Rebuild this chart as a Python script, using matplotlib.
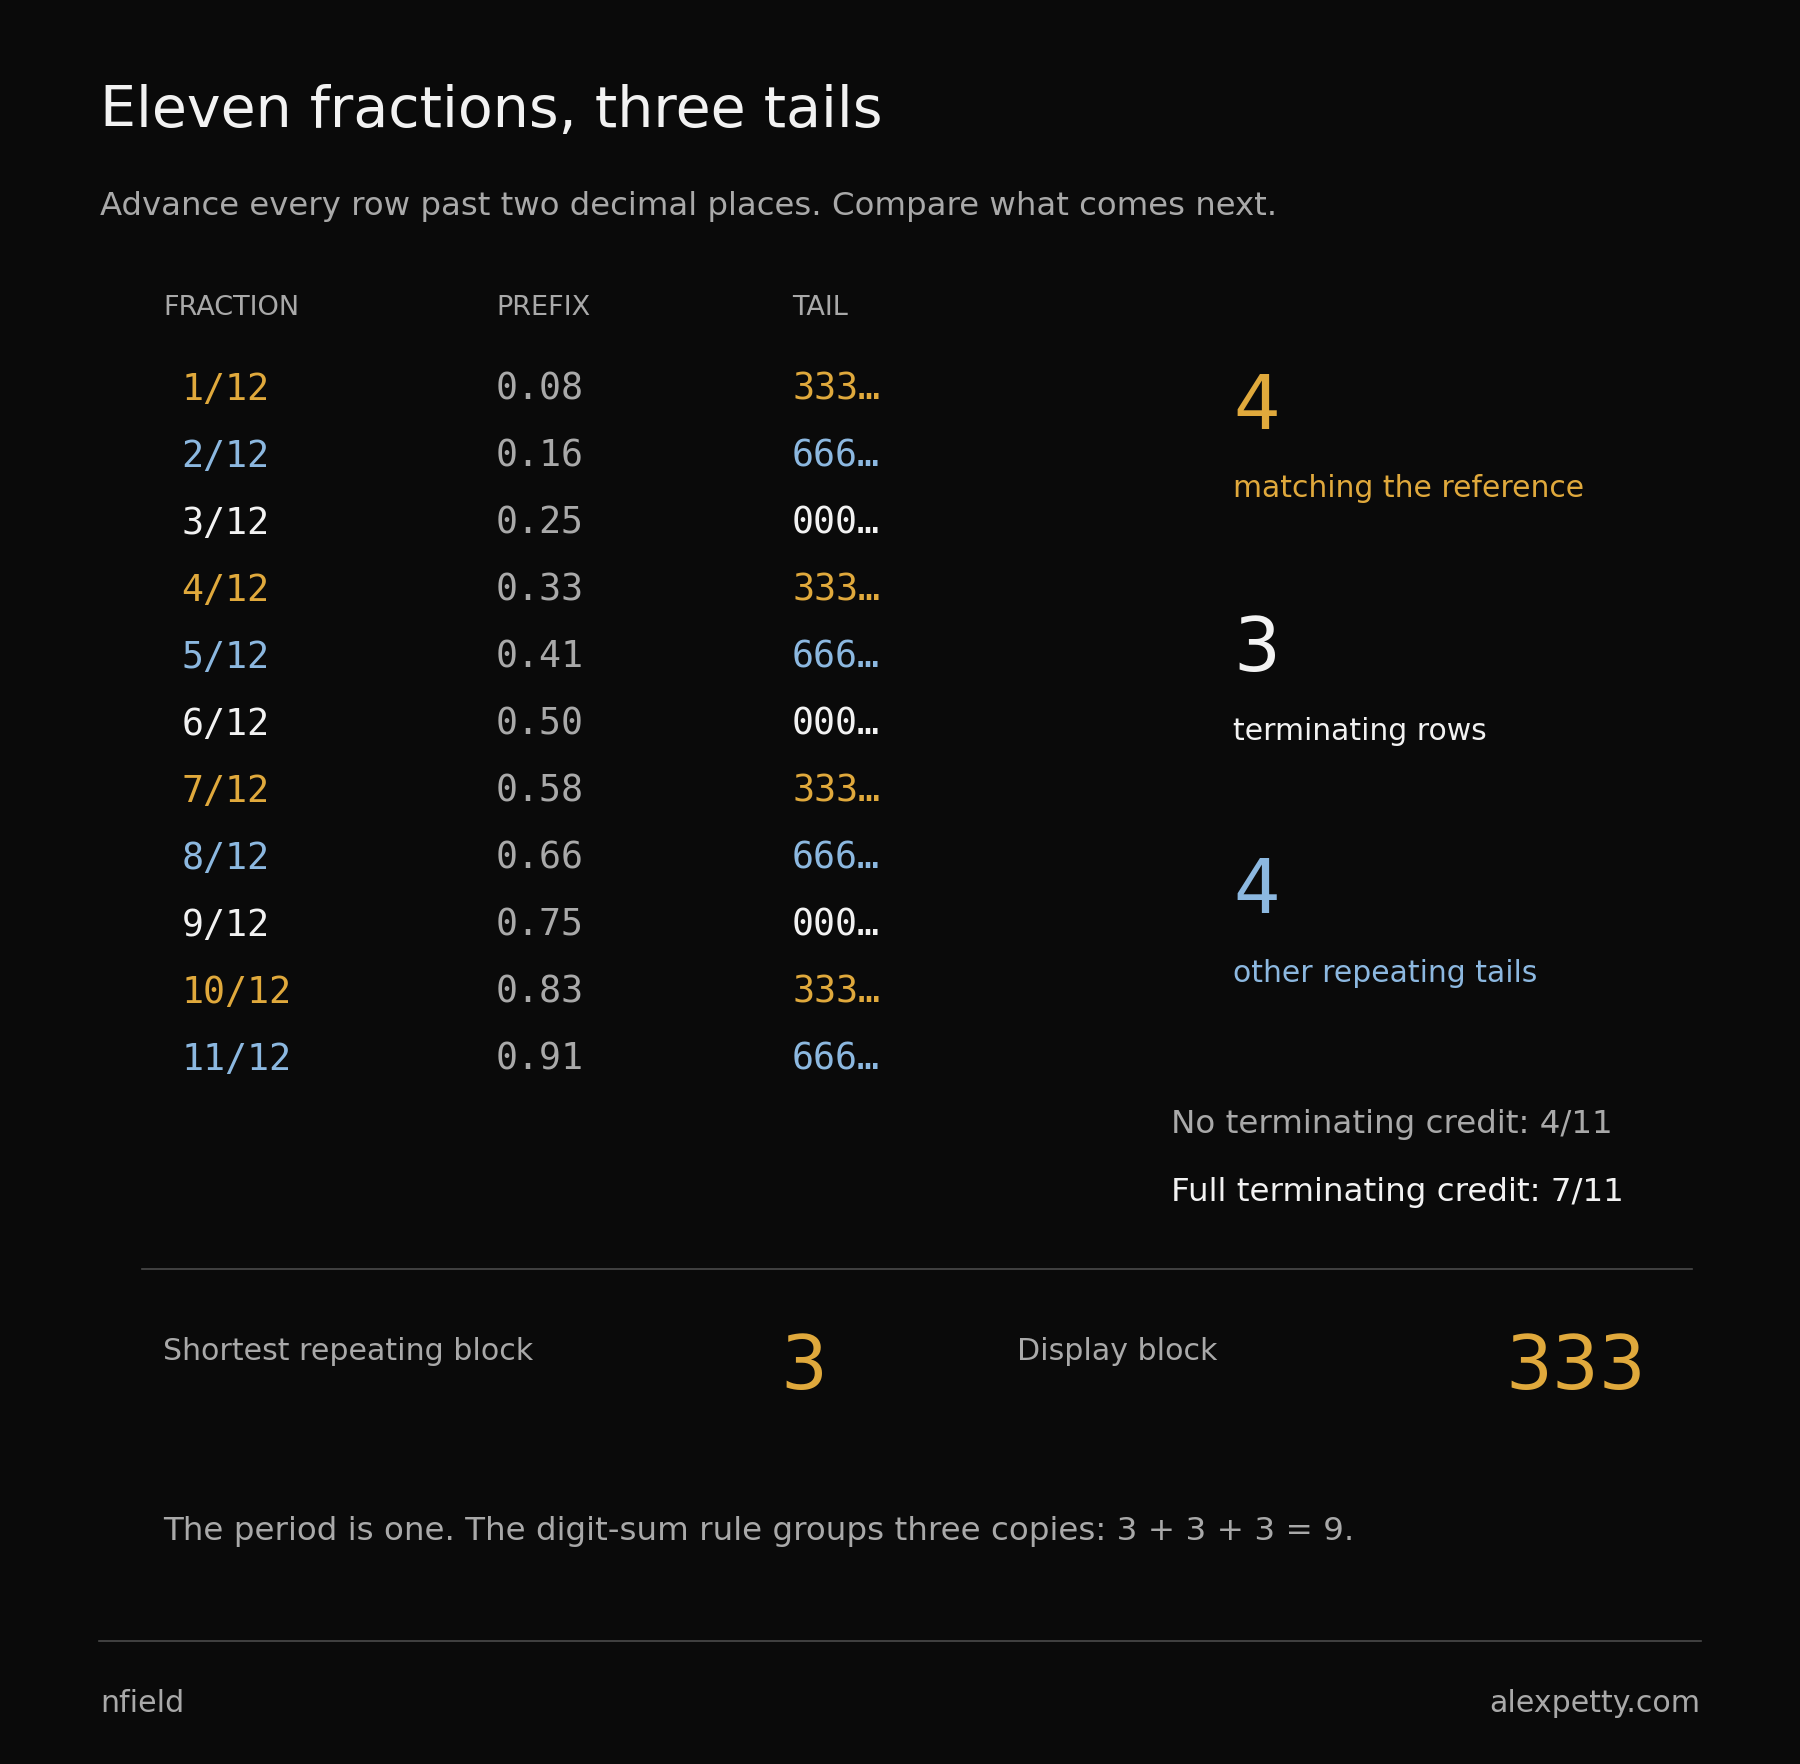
import matplotlib
matplotlib.use("Agg")
import matplotlib.pyplot as plt

BG = "#0a0a0a"
GOLD = "#e0a93c"
BLUE = "#8cb8e0"
WHITE = "#f2f2f2"
GRAY = "#a9a9a9"
LINE = "#4a4a4a"

fractions = ["1/12", "2/12", "3/12", "4/12", "5/12", "6/12", "7/12", "8/12", "9/12", "10/12", "11/12"]
prefixes = ["0.08", "0.16", "0.25", "0.33", "0.41", "0.50", "0.58", "0.66", "0.75", "0.83", "0.91"]
tails = ["333…", "666…", "000…", "333…", "666…", "000…", "333…", "666…", "000…", "333…", "666…"]
tail_colors = {"333…": GOLD, "666…": BLUE, "000…": WHITE}

stat_values = ["4", "3", "4"]
stat_labels = ["matching the reference", "terminating rows", "other repeating tails"]
stat_colors = [GOLD, WHITE, BLUE]

W, H = 1568, 1537
fig = plt.figure(figsize=(18, 17.64), dpi=100, facecolor=BG)

def t(x, y, s, **kw):
    kw.setdefault("va", "center")
    fig.text(x / W, 1 - y / H, s, **kw)

def hline(x0, x1, y):
    fig.add_artist(plt.Line2D([x0 / W, x1 / W], [1 - y / H, 1 - y / H], color=LINE, lw=1.2))

t(87, 97, "Eleven fractions, three tails", color=WHITE, fontsize=41)
t(87, 180, "Advance every row past two decimal places. Compare what comes next.", color=GRAY, fontsize=23.3)

t(142, 268, "FRACTION", color=GRAY, fontsize=19.5)
t(432, 268, "PREFIX", color=GRAY, fontsize=19.5)
t(690, 268, "TAIL", color=GRAY, fontsize=19.5)

mono = "DejaVu Sans Mono"
for i, (f, p, tl) in enumerate(zip(fractions, prefixes, tails)):
    y = 339 + i * 58.4
    c = tail_colors[tl]
    t(158, y, f, color=c, fontsize=26.4, family=mono)
    t(432, y, p, color=GRAY, fontsize=26.4, family=mono)
    t(690, y, tl, color=c, fontsize=26.4, family=mono)

for i, (v, lab, c) in enumerate(zip(stat_values, stat_labels, stat_colors)):
    y0 = 356 + i * 211
    t(1074, y0, v, color=c, fontsize=53)
    t(1074, y0 + 70, lab, color=c, fontsize=21.5)

t(1020, 980, "No terminating credit: 4/11", color=GRAY, fontsize=23.4)
t(1020, 1039, "Full terminating credit: 7/11", color=WHITE, fontsize=23.4)

hline(124, 1474, 1106)

t(142, 1178, "Shortest repeating block", color=GRAY, fontsize=21.6)
t(700, 1192, "3", color=GOLD, fontsize=53, ha="center")
t(886, 1178, "Display block", color=GRAY, fontsize=21.6)
t(1434, 1192, "333", color=GOLD, fontsize=53, ha="right")

t(142, 1334, "The period is one. The digit-sum rule groups three copies: 3 + 3 + 3 = 9.", color=GRAY, fontsize=23.4)

hline(86, 1482, 1430)
t(87, 1484, "nfield", color=GRAY, fontsize=21.6)
t(1481, 1484, "alexpetty.com", color=GRAY, fontsize=21.6, ha="right")

fig.savefig("out.png", facecolor=BG)
